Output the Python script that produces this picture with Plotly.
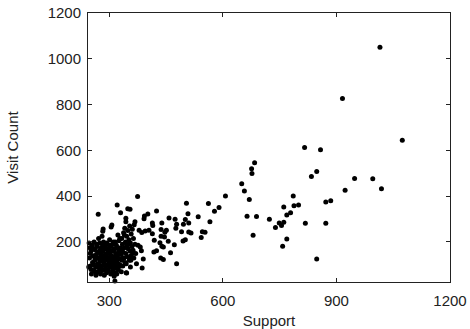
import plotly.graph_objects as go

# Sparse / outlying points (Support, Visit Count)
support_outer = [1015, 916, 1074, 816, 858, 848, 834, 948, 996, 923, 1019, 885, 872, 872, 818, 848,
                 786, 800, 788, 779, 769, 761, 761, 755, 749, 739, 723, 769, 758,
                 684, 676, 677, 650, 657, 670, 664, 689, 680,
                 607, 590, 578, 566, 562, 535, 504, 508, 501, 510, 496, 546, 553, 510, 516, 543,
                 491, 501, 495, 478, 476, 474, 458, 472, 478, 462, 451, 456]
visits_outer = [1050, 826, 644, 612, 603, 508, 486, 477, 476, 426, 432, 380, 374, 282, 282, 126,
                401, 361, 358, 328, 318, 353, 286, 272, 283, 263, 299, 213, 181,
                546, 520, 499, 454, 422, 385, 312, 311, 229,
                401, 350, 334, 288, 368, 310, 369, 323, 298, 283, 277, 245, 242, 243, 239, 219,
                244, 210, 204, 277, 260, 299, 305, 188, 105, 153, 251, 203]

# Middle band
support_mid = [271, 321, 375, 330, 349, 355, 344, 368, 307, 305, 284, 283, 393, 402, 392, 425, 414,
               415, 405, 395, 379, 386, 414, 419, 439, 437, 437, 446, 447, 434, 439, 443, 436, 443,
               418, 425, 385, 390, 387, 376, 382, 370, 372, 346, 315, 356, 358, 363, 344]
visits_mid = [321, 361, 399, 328, 345, 343, 303, 288, 274, 265, 256, 247, 313, 322, 301, 335, 283,
              272, 251, 248, 251, 241, 236, 207, 283, 254, 225, 222, 242, 196, 181, 178, 130, 123,
              156, 161, 161, 126, 86, 185, 178, 149, 105, 64, 29, 90, 131, 164, 288]

# Dense cluster
support_dense = [248, 250, 252, 253, 255, 256, 258, 259, 260, 262, 263, 264, 265, 266, 268, 269, 270,
                 271, 272, 273, 274, 275, 276, 277, 278, 279, 280, 281, 282, 283, 284, 285, 286, 287,
                 288, 289, 290, 291, 292, 293, 294, 295, 296, 297, 298, 299, 300, 301, 302, 303, 304,
                 305, 306, 307, 308, 309, 310, 311, 312, 313, 314, 315, 316, 317, 318, 319, 320, 321,
                 322, 323, 324, 325, 326, 327, 328, 330, 331, 332, 333, 334, 335, 336, 337, 338, 339,
                 340, 341, 342, 343, 344, 345, 346, 347, 348, 349, 350, 352, 353, 354, 355, 356, 357,
                 358, 360, 361, 362, 364, 365, 366, 368,
                 250, 252, 256, 258, 261, 263, 267, 270, 272, 274, 276, 278, 280, 282, 285, 287, 289,
                 291, 293, 295, 297, 299, 301, 303, 305, 308, 310, 312, 314, 316, 318, 320, 322, 324,
                 326, 328, 330, 333, 336, 340, 345, 351, 357, 247, 249, 246]
visits_dense = [130, 95, 160, 60, 185, 110, 140, 75, 200, 120, 165, 90, 55, 145, 180, 105, 70,
                130, 215, 155, 85, 195, 115, 60, 140, 175, 95, 225, 125, 75, 160, 200, 105, 55,
                140, 185, 85, 120, 170, 65, 150, 100, 190, 130, 75, 165, 110, 210, 90, 145, 60,
                180, 120, 95, 160, 70, 135, 200, 105, 50, 170, 85, 125, 150, 65, 185, 115, 95,
                140, 230, 80, 160, 205, 125, 100, 175, 145, 70, 215, 120, 190, 95, 155, 240, 130,
                175, 260, 110, 200, 150, 65, 225, 185, 135, 250, 170, 210, 120, 270, 160, 195, 140,
                235, 180, 255, 150, 215, 130, 275, 190,
                150, 80, 175, 100, 135, 70, 190, 155, 100, 125, 165, 80, 145, 190, 120, 170, 100,
                145, 195, 80, 155, 120, 180, 105, 140, 190, 80, 165, 110, 200, 140, 60, 175, 105,
                150, 215, 95, 160, 130, 230, 105, 190, 120, 195, 175, 90]

support = support_outer + support_mid + support_dense
visits = visits_outer + visits_mid + visits_dense

font = dict(family="Liberation Sans, Arial, sans-serif", size=15, color="#222222")

fig = go.Figure(go.Scatter(
    x=support, y=visits, mode="markers",
    marker=dict(size=5, color="black"),
    cliponaxis=False, showlegend=False,
))

axis_common = dict(
    showgrid=False, zeroline=False, showline=True, linecolor="#222222", linewidth=1,
    mirror="ticks", ticks="inside", ticklen=4, tickcolor="#222222",
    tickfont=font, automargin=False,
)

fig.update_layout(
    width=470, height=329,
    margin=dict(l=88, r=20, t=13, b=47),
    paper_bgcolor="white", plot_bgcolor="white",
    font=font,
    xaxis=dict(range=[244, 1200], tickvals=[300, 600, 900, 1200], ticklabelstandoff=5,
               title=dict(text="Support", font=font, standoff=12), **axis_common),
    yaxis=dict(range=[25, 1200], tickvals=[200, 400, 600, 800, 1000, 1200], ticklabelstandoff=3,
               title=dict(text="Visit Count", font=font, standoff=25), **axis_common),
)

fig.write_html("out.html")
